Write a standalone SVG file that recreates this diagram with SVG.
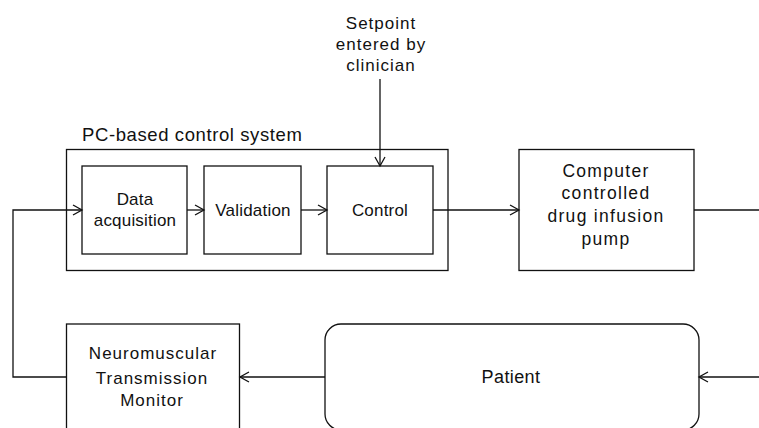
<svg xmlns="http://www.w3.org/2000/svg" width="759" height="428" viewBox="0 0 759 428">
<style>
.box{fill:#fff;stroke:#111;stroke-width:1.3}
.ln{fill:none;stroke:#111;stroke-width:1.3}
text{font-family:"Liberation Sans",Arial,sans-serif;fill:#111;text-anchor:middle}
.t17{font-size:17px;letter-spacing:0.2px}
.t17w{font-size:17px;letter-spacing:1px}
.t18{font-size:17.5px;letter-spacing:1.3px}
</style>
<defs>
<marker id="ah" markerUnits="userSpaceOnUse" markerWidth="12" markerHeight="12" refX="9" refY="5" orient="auto" overflow="visible">
<path d="M0,0 L9,5 L0,10" fill="none" stroke="#111" stroke-width="1.3"/>
</marker>
</defs>
<rect width="759" height="428" fill="#fff"/>
<g id="setpoint">
<text class="t17w" x="381" y="29">Setpoint</text>
<text class="t17w" x="381" y="50">entered by</text>
<text class="t17w" x="381" y="71">clinician</text>
</g>
<g id="pc-system">
<text style="font-size:18.5px;letter-spacing:0.6px;text-anchor:start" x="82" y="141">PC-based control system</text>
<rect class="box" x="66.5" y="149.5" width="381.5" height="121"/>
</g>
<g id="data-acquisition">
<rect class="box" x="82" y="166" width="105" height="88"/>
<text class="t17" x="135" y="205">Data</text>
<text class="t17" x="135" y="226">acquisition</text>
</g>
<g id="validation">
<rect class="box" x="204" y="166" width="97" height="88"/>
<text class="t17" x="253" y="216">Validation</text>
</g>
<g id="control">
<rect class="box" x="327" y="166" width="106" height="88"/>
<text class="t17" x="380" y="216">Control</text>
</g>
<g id="pump">
<rect class="box" x="519" y="149.5" width="175" height="121"/>
<text class="t18" x="606" y="177">Computer</text>
<text class="t18" x="606" y="199">controlled</text>
<text class="t18" x="606" y="222">drug infusion</text>
<text class="t18" x="606" y="245">pump</text>
</g>
<g id="nmt-monitor">
<rect class="box" x="66.5" y="324" width="173" height="120"/>
<text class="t17w" x="153" y="359">Neuromuscular</text>
<text class="t17w" x="152" y="384">Transmission</text>
<text class="t17w" x="152" y="406">Monitor</text>
</g>
<g id="patient">
<rect class="box" x="325" y="324" width="374" height="106" rx="16" ry="16"/>
<text style="font-size:18px;letter-spacing:0.4px" x="511" y="383">Patient</text>
</g>
<g id="connectors">
<path class="ln" d="M380,79 L380,166" marker-end="url(#ah)"/>
<path class="ln" d="M187,210 L204,210" marker-end="url(#ah)"/>
<path class="ln" d="M301,210 L327,210" marker-end="url(#ah)"/>
<path class="ln" d="M433,210 L519,210" marker-end="url(#ah)"/>
<path class="ln" d="M694,210 L759,210"/>
<path class="ln" d="M759,377 L699,377" marker-end="url(#ah)"/>
<path class="ln" d="M325,377 L240,377" marker-end="url(#ah)"/>
<path class="ln" d="M66.5,377 L13,377 L13,210 L82,210" marker-end="url(#ah)"/>
</g>
</svg>
